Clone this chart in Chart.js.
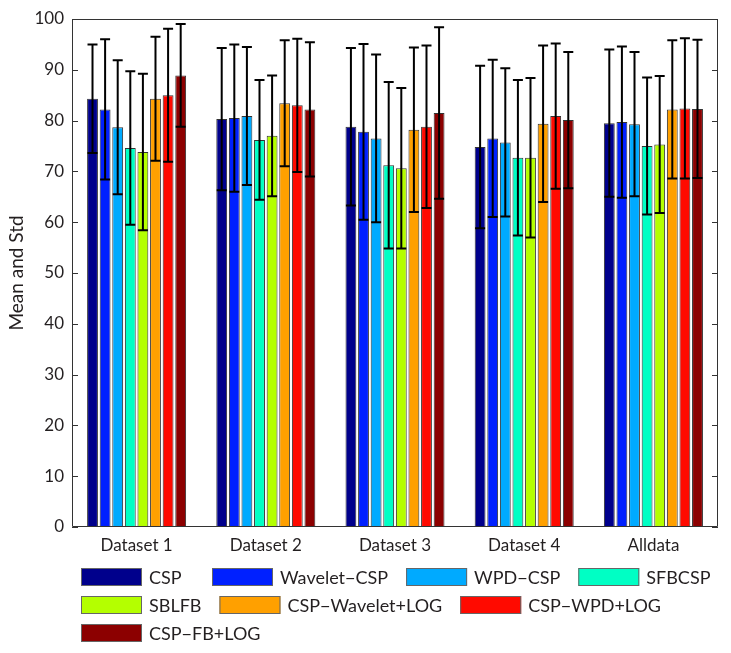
<!DOCTYPE html>
<html>
<head>
<meta charset="utf-8">
<script src="https://cdn.jsdelivr.net/npm/chart.js@4/dist/chart.umd.min.js"></script>
<style>
  html, body { margin: 0; padding: 0; background: #fff; }
  #wrap { width: 731px; height: 653px; }
</style>
</head>
<body>
<div id="wrap"><canvas id="chart" width="731" height="653"></canvas></div>
<script>
const categories = ['Dataset 1', 'Dataset 2', 'Dataset 3', 'Dataset 4', 'Alldata'];
const methods = ['CSP', 'Wavelet\u2212CSP', 'WPD\u2212CSP', 'SFBCSP', 'SBLFB', 'CSP\u2212Wavelet+LOG', 'CSP\u2212WPD+LOG', 'CSP\u2212FB+LOG'];
const colors = ['#00008c', '#0020ff', '#00aaff', '#00ffc4', '#b4ff00', '#ffa000', '#ff0a00', '#8c0000'];

// mean per method, one value per category
const meanCSP      = [84.3, 80.3, 78.8, 74.8, 79.5];
const meanWavelet  = [82.2, 80.5, 77.8, 76.5, 79.7];
const meanWPD      = [78.7, 80.9, 76.5, 75.7, 79.3];
const meanSFBCSP   = [74.6, 76.2, 71.2, 72.7, 75.0];
const meanSBLFB    = [73.8, 77.0, 70.6, 72.7, 75.3];
const meanWavLog   = [84.3, 83.4, 78.2, 79.4, 82.2];
const meanWpdLog   = [85.0, 83.0, 78.8, 80.9, 82.4];
const meanFbLog    = [88.9, 82.2, 81.5, 80.1, 82.3];

// std per method
const stdCSP      = [10.7, 14.0, 15.5, 16.0, 14.5];
const stdWavelet  = [13.8, 14.5, 17.3, 15.5, 14.9];
const stdWPD      = [13.2, 13.6, 16.5, 14.6, 14.2];
const stdSFBCSP   = [15.1, 11.8, 16.4, 15.3, 13.5];
const stdSBLFB    = [15.4, 11.9, 15.8, 15.7, 13.5];
const stdWavLog   = [12.2, 12.4, 16.2, 15.4, 13.6];
const stdWpdLog   = [13.1, 13.1, 16.0, 14.3, 13.8];
const stdFbLog    = [10.1, 13.2, 16.9, 13.4, 13.6];

const yTicks = [0, 10, 20, 30, 40, 50, 60, 70, 80, 90, 100];

const means = [meanCSP, meanWavelet, meanWPD, meanSFBCSP, meanSBLFB, meanWavLog, meanWpdLog, meanFbLog];
const stds = [stdCSP, stdWavelet, stdWPD, stdSFBCSP, stdSBLFB, stdWavLog, stdWpdLog, stdFbLog];

const FONT = 'Lato';
const textColor = '#231f20';
const frameColor = '#333333';

// error bars, box frame with inward ticks, and the legend below
const extras = {
  id: 'extras',
  afterDatasetsDraw(chart) {
    const c = chart.ctx;
    const y = chart.scales.y;
    c.save();
    c.strokeStyle = '#000';
    c.lineWidth = 2;
    chart.data.datasets.forEach((ds, i) => {
      chart.getDatasetMeta(i).data.forEach((bar, j) => {
        const m = means[i][j], s = stds[i][j];
        const top = y.getPixelForValue(m + s);
        const bot = y.getPixelForValue(m - s);
        c.beginPath();
        c.moveTo(bar.x, top);
        c.lineTo(bar.x, bot);
        c.moveTo(bar.x - 5, top);
        c.lineTo(bar.x + 5, top);
        c.moveTo(bar.x - 5, bot);
        c.lineTo(bar.x + 5, bot);
        c.stroke();
      });
    });
    c.restore();
  },
  afterDraw(chart) {
    const c = chart.ctx;
    const a = chart.chartArea;
    const y = chart.scales.y;
    c.save();
    c.strokeStyle = frameColor;
    c.lineWidth = 1;
    c.beginPath();
    c.rect(a.left + 0.5, a.top + 0.5, a.right - a.left - 1, a.bottom - a.top - 1);
    yTicks.forEach(v => {
      const py = Math.round(y.getPixelForValue(v)) + 0.5;
      c.moveTo(a.left, py);
      c.lineTo(a.left + 6, py);
      c.moveTo(a.right, py);
      c.lineTo(a.right - 6, py);
    });
    c.stroke();

    // legend, flowing left to right like the original
    c.font = '18px ' + FONT;
    c.textBaseline = 'middle';
    const boxW = 61, boxH = 18, gap = 7, pad = 18, minItem = 131, rowH = 28;
    const x0 = 81, maxX = 725;
    let px = x0, py = 577;
    methods.forEach((name, i) => {
      const w = Math.max(minItem, boxW + gap + c.measureText(name).width + pad);
      if (px > x0 && px + w - pad > maxX) { px = x0; py += rowH; }
      c.fillStyle = colors[i];
      c.fillRect(px, py - boxH / 2, boxW, boxH);
      c.strokeStyle = '#666';
      c.strokeRect(px + 0.5, py - boxH / 2 + 0.5, boxW - 1, boxH - 1);
      c.fillStyle = textColor;
      c.fillText(name, px + boxW + gap, py + 1);
      px += w;
    });
    c.restore();
  }
};

new Chart(document.getElementById('chart'), {
  type: 'bar',
  data: {
    labels: categories,
    datasets: methods.map((name, i) => ({
      label: name,
      data: means[i],
      backgroundColor: colors[i],
      borderColor: '#333',
      borderWidth: 1,
      categoryPercentage: 0.78,
      barPercentage: 0.86
    }))
  },
  options: {
    responsive: false,
    animation: false,
    layout: { padding: { left: 0, right: 13, top: 19, bottom: 86 } },
    plugins: {
      legend: { display: false },
      tooltip: { enabled: false }
    },
    scales: {
      x: {
        grid: { display: false, drawTicks: false, tickLength: 0 },
        border: { display: false },
        ticks: { color: textColor, padding: 8, font: { family: FONT, size: 17 } },
        afterFit(s) { s.height = 40; }
      },
      y: {
        min: 0,
        max: 100,
        grid: { display: false, drawTicks: false, tickLength: 0 },
        border: { display: false },
        afterBuildTicks(s) { s.ticks = yTicks.map(v => ({ value: v })); },
        ticks: { color: textColor, padding: 8, font: { family: FONT, size: 17 } },
        title: {
          display: true,
          text: 'Mean and Std',
          color: textColor,
          padding: { top: 5, bottom: 0 },
          font: { family: FONT, size: 19 }
        },
        afterFit(s) { s.width = 72; }
      }
    }
  },
  plugins: [extras]
});
</script>
</body>
</html>
